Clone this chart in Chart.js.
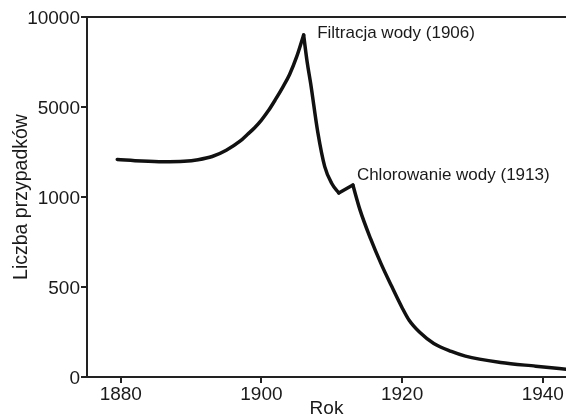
<!DOCTYPE html>
<html>
<head>
<meta charset="utf-8">
<script src="https://cdn.jsdelivr.net/npm/chart.js@4.4.0/dist/chart.umd.min.js"></script>
<style>
  html, body { margin: 0; padding: 0; background: #fff; }
</style>
</head>
<body>
<canvas id="chart" width="566" height="415"></canvas>
<script>
// Cases per year
const years = [1879.5, 1883, 1886, 1889, 1891, 1893, 1895, 1897, 1898, 1899,
  1900, 1901, 1902, 1903, 1904, 1905, 1906, 1906.5, 1907, 1908,
  1909, 1910, 1911, 1913, 1914, 1915.5, 1917, 1918.5, 1920, 1921,
  1922.5, 1924.5, 1927, 1929, 1934, 1939, 1944];
const cases = [2670, 2600, 2570, 2590, 2660, 2800, 3080, 3490, 3780, 4070,
  4420, 4840, 5420, 6080, 6810, 7780, 9000, 7500, 6300, 3900,
  2350, 1600, 1180, 1530, 930, 770, 630, 505, 385, 315,
  248, 186, 142, 116, 81, 60, 40];

// Years where the curve has a sharp corner (peak, dip, jump)
const cornerYears = [1906, 1911, 1913];

// y axis is segmented: ticks evenly spaced, values are not
const yTickValues = [0, 500, 1000, 5000, 10000];
const xTickValues = [1880, 1900, 1920, 1940];

// Annotations
const noteYears = [1906, 1913];
const noteValues = [9000, 1530];
const noteTexts = ['Filtracja wody (1906)', 'Chlorowanie wody (1913)'];

const FONT = '"Liberation Sans", Arial, Helvetica, sans-serif';
const INK = '#1a1a1a';
const AXIS = '#222222';

// map a value onto the tick slot it falls in (0..4)
function toSlot(v) {
  for (let i = 1; i < yTickValues.length; i++) {
    if (v <= yTickValues[i]) {
      const lo = yTickValues[i - 1];
      const hi = yTickValues[i];
      return (i - 1) + (v - lo) / (hi - lo);
    }
  }
  return yTickValues.length - 1;
}

const points = years.map((yr, i) => ({ x: yr, y: toSlot(cases[i]) }));

// split at the corners so each smooth piece keeps its sharp ends
const cuts = [0, ...cornerYears.map(c => years.indexOf(c)), years.length - 1];
const datasets = [];
for (let i = 0; i < cuts.length - 1; i++) {
  datasets.push({
    data: points.slice(cuts[i], cuts[i + 1] + 1),
    borderColor: '#111111',
    borderWidth: 3.5,
    borderCapStyle: 'round',
    borderJoinStyle: 'round',
    cubicInterpolationMode: 'monotone',
    pointRadius: 0,
    fill: false
  });
}

// Text labels next to the two marked events
const noteOffsets = [[13.5, 2.5], [4, -5.5]];
const notesPlugin = {
  id: 'notes',
  afterDatasetsDraw(chart) {
    const { ctx, scales } = chart;
    ctx.save();
    ctx.font = '17px ' + FONT;
    ctx.fillStyle = INK;
    ctx.textAlign = 'left';
    ctx.textBaseline = 'alphabetic';
    noteTexts.forEach((t, i) => {
      const px = scales.x.getPixelForValue(noteYears[i]);
      const py = scales.y.getPixelForValue(toSlot(noteValues[i]));
      ctx.fillText(t, px + noteOffsets[i][0], py + noteOffsets[i][1]);
    });
    ctx.restore();
  }
};

const xMin = 1875.2;
const xMax = 1943.3;

new Chart(document.getElementById('chart').getContext('2d'), {
  type: 'line',
  data: { datasets },
  options: {
    responsive: false,
    devicePixelRatio: 1,
    animation: false,
    layout: { padding: 0 },
    plugins: {
      legend: { display: false },
      tooltip: { enabled: false }
    },
    scales: {
      x: {
        type: 'linear',
        position: 'bottom',
        min: xMin,
        max: xMax,
        afterBuildTicks: s => { s.ticks = xTickValues.map(v => ({ value: v })); },
        afterFit: s => { s.height = 38; },
        ticks: {
          color: INK,
          font: { family: FONT, size: 19 },
          padding: 0,
          maxRotation: 0,
          callback: v => String(v)
        },
        grid: { drawOnChartArea: false, drawTicks: true, tickLength: 6, color: AXIS, lineWidth: 2 },
        border: { display: true, color: AXIS, width: 2 },
        title: {
          display: true,
          text: 'Rok',
          color: INK,
          font: { family: FONT, size: 19 },
          padding: { top: 0, bottom: -5.5 }
        }
      },
      top: {
        type: 'linear',
        position: 'top',
        min: xMin,
        max: xMax,
        afterFit: s => { s.height = 17; },
        ticks: { display: false },
        grid: { display: false, drawTicks: false },
        border: { display: true, color: AXIS, width: 2 }
      },
      y: {
        type: 'linear',
        position: 'left',
        min: 0,
        max: yTickValues.length - 1,
        afterBuildTicks: s => { s.ticks = yTickValues.map((v, i) => ({ value: i })); },
        afterFit: s => { s.width = 87; },
        ticks: {
          color: INK,
          font: { family: FONT, size: 19 },
          padding: 1,
          labelOffset: 2,
          callback: v => String(yTickValues[v])
        },
        grid: { drawOnChartArea: false, drawTicks: true, tickLength: 6, color: AXIS, lineWidth: 2 },
        border: { display: true, color: AXIS, width: 2 },
        title: {
          display: true,
          text: 'Liczba przypadków',
          color: INK,
          font: { family: FONT, size: 19.5 },
          padding: { top: 10, bottom: 0 }
        }
      }
    }
  },
  plugins: [notesPlugin]
});
</script>
</body>
</html>
